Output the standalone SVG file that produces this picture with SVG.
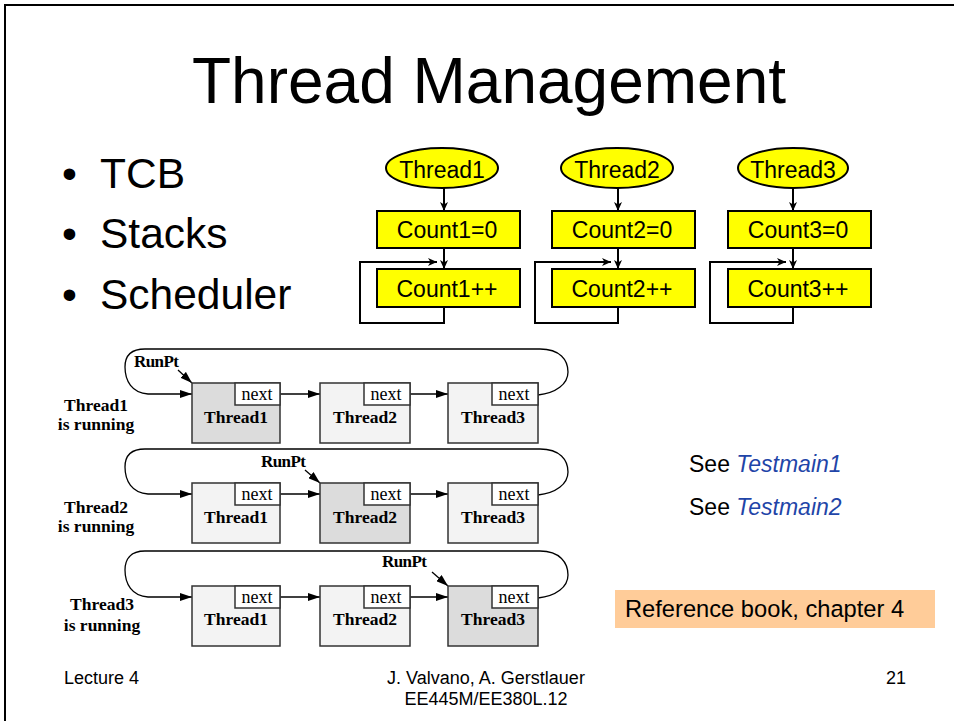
<svg xmlns="http://www.w3.org/2000/svg" width="954" height="721" viewBox="0 0 954 721">
<defs>
<style>
.sans{font-family:"Liberation Sans",Arial,sans-serif}
.serif{font-family:"Liberation Serif","Times New Roman",serif}
.fc{fill:#ffff00;stroke:#000;stroke-width:2}
.fct{font-family:"Liberation Sans",Arial,sans-serif;font-size:23px;text-anchor:middle;fill:#000}
.fl{fill:none;stroke:#000;stroke-width:2}
.tcb{stroke:#333;stroke-width:1.5}
.run{fill:#dcdcdc}
.idle{fill:#f3f3f3}
.nx{fill:#fff;stroke:#333;stroke-width:1.5}
.nxt{font-family:"Liberation Serif","Times New Roman",serif;font-size:18px;text-anchor:middle;fill:#000}
.bt{font-family:"Liberation Serif","Times New Roman",serif;font-size:17.5px;font-weight:bold;text-anchor:middle;fill:#000}
.rp{font-family:"Liberation Serif","Times New Roman",serif;font-size:17px;font-weight:bold;letter-spacing:-0.6px;fill:#000}
.ll{fill:none;stroke:#000;stroke-width:1.3}
</style>
<marker id="ah" markerWidth="12" markerHeight="8" refX="12" refY="4" orient="auto" markerUnits="userSpaceOnUse">
<path d="M0,0 L12,4 L0,8 Z" fill="#000"/>
</marker>
<marker id="fa" markerWidth="9" markerHeight="8" refX="9" refY="4" orient="auto" markerUnits="userSpaceOnUse">
<path d="M0,0 L9,4 L0,8 L2.5,4 Z" fill="#000"/>
</marker>
</defs>
<rect width="954" height="721" fill="#fff"/>
<rect x="5" y="5" width="1000" height="800" fill="none" stroke="#000" stroke-width="2"/>

<text class="sans" x="489" y="103" font-size="64" text-anchor="middle">Thread Management</text>

<g id="bullets" class="sans" font-size="42.5">
<text x="62" y="188">•</text><text x="100" y="188">TCB</text>
<text x="62" y="248">•</text><text x="100" y="248">Stacks</text>
<text x="62" y="309">•</text><text x="100" y="309">Scheduler</text>
</g>

<!-- flowcharts -->
<g id="connectors-flow">
<line class="fl" x1="444" y1="188" x2="444" y2="211" marker-end="url(#fa)"/>
<line class="fl" x1="444" y1="248" x2="444" y2="269" marker-end="url(#fa)"/>
<path class="fl" d="M444,307 V323 H360 V262 H437" marker-end="url(#fa)"/>
<line class="fl" x1="618" y1="188" x2="618" y2="211" marker-end="url(#fa)"/>
<line class="fl" x1="618" y1="248" x2="618" y2="269" marker-end="url(#fa)"/>
<path class="fl" d="M618,307 V323 H535 V262 H611" marker-end="url(#fa)"/>
<line class="fl" x1="793" y1="188" x2="793" y2="211" marker-end="url(#fa)"/>
<line class="fl" x1="793" y1="248" x2="793" y2="269" marker-end="url(#fa)"/>
<path class="fl" d="M793,307 V323 H710 V262 H786" marker-end="url(#fa)"/>
</g>
<g id="thread1-start"><ellipse class="fc" cx="442" cy="168" rx="56" ry="20"/><text class="fct" x="442" y="178">Thread1</text></g>
<g id="count1-init"><rect class="fc" x="377" y="211" width="143" height="37"/><text class="fct" x="447" y="238">Count1=0</text></g>
<g id="count1-inc"><rect class="fc" x="377" y="269" width="143" height="38"/><text class="fct" x="447" y="297">Count1++</text></g>
<g id="thread2-start"><ellipse class="fc" cx="617" cy="168" rx="56" ry="20"/><text class="fct" x="617" y="178">Thread2</text></g>
<g id="count2-init"><rect class="fc" x="552" y="211" width="143" height="37"/><text class="fct" x="622" y="238">Count2=0</text></g>
<g id="count2-inc"><rect class="fc" x="552" y="269" width="143" height="38"/><text class="fct" x="622" y="297">Count2++</text></g>
<g id="thread3-start"><ellipse class="fc" cx="793" cy="168" rx="55" ry="20"/><text class="fct" x="793" y="178">Thread3</text></g>
<g id="count3-init"><rect class="fc" x="728" y="211" width="143" height="37"/><text class="fct" x="798" y="238">Count3=0</text></g>
<g id="count3-inc"><rect class="fc" x="728" y="269" width="143" height="38"/><text class="fct" x="798" y="297">Count3++</text></g>

<!-- linked lists -->
<g id="connectors-list">
<line class="ll" x1="279" y1="394" x2="320" y2="394" marker-end="url(#ah)"/>
<line class="ll" x1="410" y1="394" x2="448" y2="394" marker-end="url(#ah)"/>
<path class="ll" d="M538,395 C556,393 568,384 568,372 C568,360 560,349 540,349 L145,349 C130,349 125,357 125,367 C125,381 132,393 148,394 L192,394" marker-end="url(#ah)"/>
<line class="ll" x1="178" y1="370" x2="192" y2="383" marker-end="url(#ah)"/>
<line class="ll" x1="280" y1="494" x2="320" y2="494" marker-end="url(#ah)"/>
<line class="ll" x1="410" y1="494" x2="448" y2="494" marker-end="url(#ah)"/>
<path class="ll" d="M538,495 C556,493 568,484 568,472 C568,460 560,449 540,449 L145,449 C130,449 125,457 125,467 C125,481 132,493 148,494 L192,494" marker-end="url(#ah)"/>
<line class="ll" x1="305" y1="470" x2="320" y2="483" marker-end="url(#ah)"/>
<line class="ll" x1="280" y1="597" x2="320" y2="597" marker-end="url(#ah)"/>
<line class="ll" x1="410" y1="597" x2="448" y2="597" marker-end="url(#ah)"/>
<path class="ll" d="M538,598 C556,596 568,587 568,575 C568,563 560,551 540,551 L145,551 C130,551 125,560 125,570 C125,584 132,596 148,597 L192,597" marker-end="url(#ah)"/>
<line class="ll" x1="432" y1="572" x2="448" y2="586" marker-end="url(#ah)"/>
</g>

<g id="r1-label"><text class="bt" x="96" y="411">Thread1</text><text class="bt" x="96" y="430">is running</text></g>
<g id="r1-runpt"><text class="rp" x="134" y="367">RunPt</text></g>
<g id="r1-t1"><rect class="tcb run" x="192" y="383" width="88" height="60"/><rect class="nx" x="235" y="383" width="45" height="22"/><text class="nxt" x="257" y="400">next</text><text class="bt" x="236" y="423">Thread1</text></g>
<g id="r1-t2"><rect class="tcb idle" x="320" y="383" width="90" height="60"/><rect class="nx" x="364" y="383" width="46" height="22"/><text class="nxt" x="386" y="400">next</text><text class="bt" x="365" y="423">Thread2</text></g>
<g id="r1-t3"><rect class="tcb idle" x="448" y="383" width="90" height="60"/><rect class="nx" x="492" y="383" width="46" height="22"/><text class="nxt" x="514" y="400">next</text><text class="bt" x="493" y="423">Thread3</text></g>

<g id="r2-label"><text class="bt" x="96" y="513">Thread2</text><text class="bt" x="96" y="532">is running</text></g>
<g id="r2-runpt"><text class="rp" x="261" y="467">RunPt</text></g>
<g id="r2-t1"><rect class="tcb idle" x="192" y="483" width="88" height="60"/><rect class="nx" x="235" y="483" width="45" height="22"/><text class="nxt" x="257" y="500">next</text><text class="bt" x="236" y="523">Thread1</text></g>
<g id="r2-t2"><rect class="tcb run" x="320" y="483" width="90" height="60"/><rect class="nx" x="364" y="483" width="46" height="22"/><text class="nxt" x="386" y="500">next</text><text class="bt" x="365" y="523">Thread2</text></g>
<g id="r2-t3"><rect class="tcb idle" x="448" y="483" width="90" height="60"/><rect class="nx" x="492" y="483" width="46" height="22"/><text class="nxt" x="514" y="500">next</text><text class="bt" x="493" y="523">Thread3</text></g>

<g id="r3-label"><text class="bt" x="102" y="610">Thread3</text><text class="bt" x="102" y="631">is running</text></g>
<g id="r3-runpt"><text class="rp" x="382" y="567">RunPt</text></g>
<g id="r3-t1"><rect class="tcb idle" x="192" y="586" width="88" height="60"/><rect class="nx" x="235" y="586" width="45" height="22"/><text class="nxt" x="257" y="603">next</text><text class="bt" x="236" y="625">Thread1</text></g>
<g id="r3-t2"><rect class="tcb idle" x="320" y="586" width="90" height="60"/><rect class="nx" x="364" y="586" width="46" height="22"/><text class="nxt" x="386" y="603">next</text><text class="bt" x="365" y="625">Thread2</text></g>
<g id="r3-t3"><rect class="tcb run" x="448" y="586" width="90" height="60"/><rect class="nx" x="492" y="586" width="46" height="22"/><text class="nxt" x="514" y="603">next</text><text class="bt" x="493" y="625">Thread3</text></g>

<g id="see" class="sans" font-size="23">
<text x="689" y="472">See <tspan fill="#1f45a8" font-style="italic">Testmain1</tspan></text>
<text x="689" y="515">See <tspan fill="#1f45a8" font-style="italic">Testmain2</tspan></text>
</g>
<g id="reference"><rect x="615" y="590" width="320" height="38" fill="#ffcc99"/><text class="sans" x="625" y="617" font-size="23.7">Reference book, chapter 4</text></g>

<g id="footer" class="sans" font-size="18">
<text x="64" y="684">Lecture 4</text>
<text x="486" y="684" text-anchor="middle">J. Valvano, A. Gerstlauer</text>
<text x="486" y="705" text-anchor="middle">EE445M/EE380L.12</text>
<text x="906" y="684" text-anchor="end">21</text>
</g>
</svg>
